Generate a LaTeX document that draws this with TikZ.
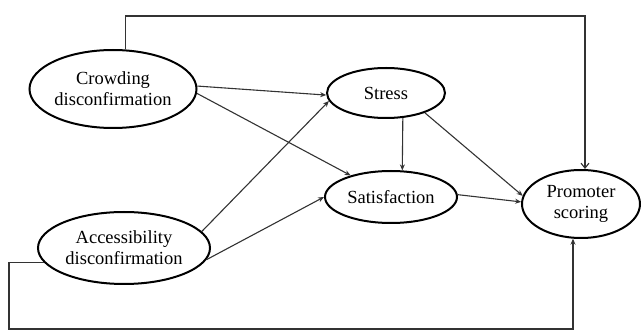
\documentclass[tikz,border=0pt]{standalone}
\usepackage{fontspec}
\setmainfont{Liberation Serif}
\usetikzlibrary{shapes.geometric,arrows.meta}
\begin{document}
\begin{tikzpicture}[x=1pt,y=-1pt,
  var/.style={ellipse,draw=black,line width=2pt,inner sep=0pt,align=center,
    font=\fontsize{18.5}{21}\selectfont},
  conn/.style={draw=black!80,line width=1.1pt,-{Stealth[length=6pt,width=5pt]}},
  barb/.style={draw=black!80,line width=1.1pt,-{Straight Barb[length=5pt,width=8pt]}}]
\useasboundingbox (0,0) rectangle (641,331);
\node[var,minimum width=167pt,minimum height=78pt] (crowd) at (113,89) {Crowding\\disconfirmation};
\node[var,minimum width=118pt,minimum height=50pt] (stress) at (386,93) {Stress};
\node[var,minimum width=132pt,minimum height=52pt] (satis) at (391,197) {Satisfaction};
\node[var,minimum width=118pt,minimum height=68pt] (promo) at (581,204) {Promoter\\scoring};
\node[var,minimum width=172pt,minimum height=72pt] (access) at (124,248) {Accessibility\\disconfirmation};
\coordinate (tr) at (585,16);
\coordinate (bl) at (9,329);
\draw[conn] (crowd.2) -- (stress.182);
\draw[conn] (crowd.-3) -- (satis);
\draw[conn] (access.12) -- (stress.188);
\draw[conn] (access.-8) -- (satis.180);
\draw[conn] (stress.-56) -- (satis.67);
\draw[conn] (stress.-27) -- (promo.172);
\draw[conn] (satis.2) -- (promo.178);
\draw[barb] (crowd.72) |- (tr) -- (tr |- promo.north);
\draw[conn] (access.190) -| (bl) -| (promo.257);
\end{tikzpicture}
\end{document}
